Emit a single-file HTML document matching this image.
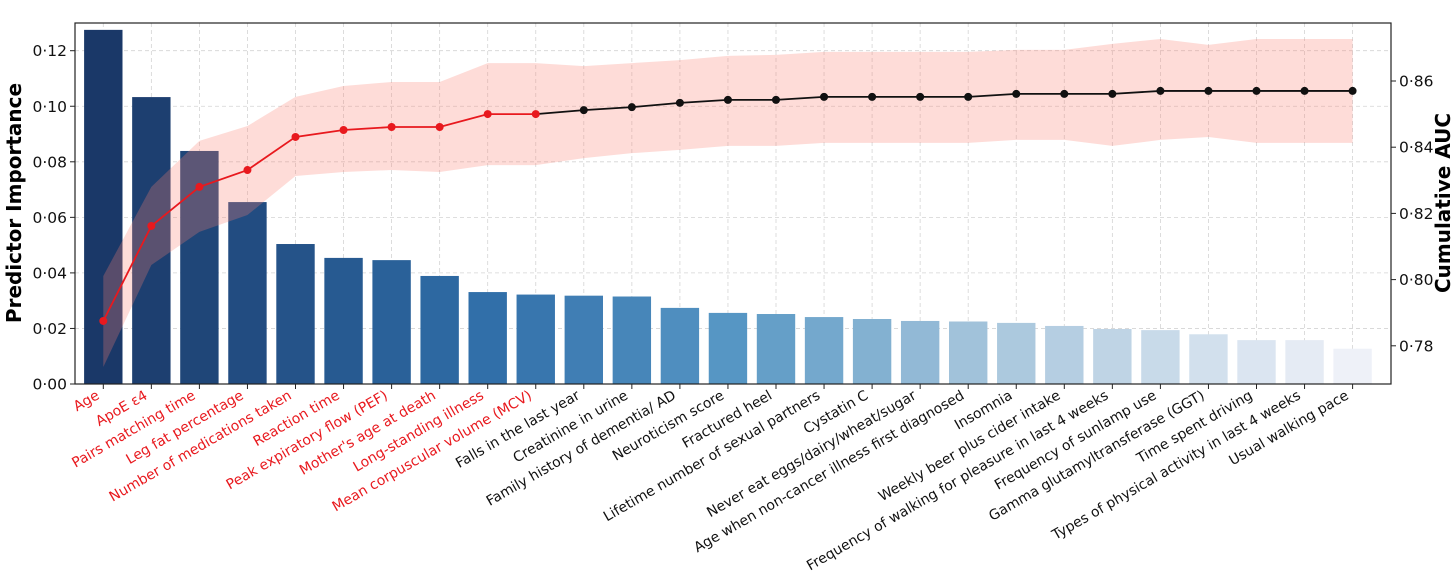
<!DOCTYPE html>
<html><head><meta charset="utf-8"><style>
body{margin:0;background:#fff;}
svg{display:block;font-family:"DejaVu Sans","Liberation Sans",sans-serif;}
</style></head><body>
<svg id="chart" width="1456" height="580"></svg>
<script>
const categories=["Age","ApoE ε4","Pairs matching time","Leg fat percentage","Number of medications taken","Reaction time","Peak expiratory flow (PEF)","Mother's age at death","Long-standing illness","Mean corpuscular volume (MCV)","Falls in the last year","Creatinine in urine","Family history of dementia/ AD","Neuroticism score","Fractured heel","Lifetime number of sexual partners","Cystatin C","Never eat eggs/dairy/wheat/sugar","Age when non-cancer illness first diagnosed","Insomnia","Weekly beer plus cider intake","Frequency of walking for pleasure in last 4 weeks","Frequency of sunlamp use","Gamma glutamyltransferase (GGT)","Time spent driving","Types of physical activity in last 4 weeks","Usual walking pace"];
const importance=[0.1275,0.1033,0.0839,0.0655,0.0504,0.0454,0.0446,0.0389,0.0331,0.0322,0.0318,0.0315,0.0274,0.0256,0.0252,0.0241,0.0234,0.0227,0.0225,0.0220,0.0209,0.0198,0.0194,0.0179,0.0158,0.0158,0.0127];
const aucMean=[0.7875,0.8162,0.8280,0.8331,0.8431,0.8452,0.8461,0.8461,0.8500,0.8500,0.8512,0.8521,0.8534,0.8543,0.8543,0.8552,0.8552,0.8552,0.8552,0.8561,0.8561,0.8561,0.8570,0.8570,0.8570,0.8570,0.8570];
const aucUpper=[0.8011,0.8280,0.8419,0.8464,0.8552,0.8585,0.8597,0.8597,0.8654,0.8654,0.8645,0.8654,0.8663,0.8676,0.8679,0.8688,0.8688,0.8688,0.8688,0.8694,0.8694,0.8712,0.8727,0.8709,0.8727,0.8727,0.8727];
const aucLower=[0.7736,0.8044,0.8144,0.8195,0.8313,0.8325,0.8331,0.8325,0.8346,0.8346,0.8367,0.8382,0.8392,0.8404,0.8404,0.8413,0.8413,0.8413,0.8413,0.8422,0.8422,0.8404,0.8422,0.8431,0.8413,0.8413,0.8413];
const leftTicks=[0,0.02,0.04,0.06,0.08,0.10,0.12];
const rightTicks=[0.78,0.80,0.82,0.84,0.86];
const nRed=10;

const NS="http://www.w3.org/2000/svg";
const svg=document.getElementById('chart');
const L=75,R=1391,T=23,B=384;
const x0=103.3,dx=48.05;
const xs=i=>x0+i*dx;
const yL=v=>B-v*2777.5;
const yR=v=>81-(v-0.86)/0.02*66.2;
function el(t,a,p){const e=document.createElementNS(NS,t);for(const k in a)e.setAttribute(k,a[k]);(p||svg).appendChild(e);return e;}
function fmt(v){return v.toFixed(2).replace('.','·');}
function lerp(a,b,t){return a+(b-a)*t;}
const stops=[[0,[26,56,104]],[0.3,[47,109,168]],[0.5,[86,150,196]],[0.7,[164,196,219]],[1,[238,241,248]]];
function col(t){for(let i=0;i<stops.length-1;i++){const[a,ca]=stops[i],[b,cb]=stops[i+1];if(t<=b){const u=(t-a)/(b-a);return `rgb(${ca.map((c,j)=>Math.round(lerp(c,cb[j],u))).join(',')})`;}}return 'rgb(238,241,248)';}

const grid=el('g',{});


categories.forEach((c,i)=>{el('line',{x1:xs(i),x2:xs(i),y1:T,y2:B,stroke:'#d4d4d4','stroke-dasharray':'4,3','stroke-width':0.8},grid);});
leftTicks.forEach(v=>{el('line',{x1:L,x2:R,y1:yL(v),y2:yL(v),stroke:'#d4d4d4','stroke-dasharray':'4,3','stroke-width':0.8},grid);});

const bars=el('g',{});


importance.forEach((v,i)=>{
  const r=el('rect',{x:xs(i)-19.2,y:yL(v),width:38.4,height:B-yL(v),fill:col(i/(importance.length-1))},bars);
  
  
});

let d='M'+aucUpper.map((v,i)=>xs(i)+','+yR(v)).join('L');
for(let i=aucLower.length-1;i>=0;i--)d+='L'+xs(i)+','+yR(aucLower[i]);
const band=el('path',{d:d+'Z',fill:'rgba(250,128,114,0.28)'});



const redPts=aucMean.slice(0,nRed).map((v,i)=>xs(i)+','+yR(v)).join(' ');
const blkPts=aucMean.slice(nRed-1).map((v,i)=>xs(i+nRed-1)+','+yR(v)).join(' ');
const bl=el('polyline',{points:blkPts,fill:'none',stroke:'#111','stroke-width':1.8});


const rl=el('polyline',{points:redPts,fill:'none',stroke:'#e8191e','stroke-width':1.8});


aucMean.forEach((v,i)=>{
  const c=el('circle',{cx:xs(i),cy:yR(v),r:4,fill:i<nRed?'#e8191e':'#111'});
  
  
});

const fr=el('rect',{x:L,y:T,width:R-L,height:B-T,fill:'none',stroke:'#222','stroke-width':1.2});



leftTicks.forEach(v=>{
  el('line',{x1:L-5,x2:L,y1:yL(v),y2:yL(v),stroke:'#222'});
  const t=el('text',{x:L-8,y:yL(v)+5.5,'text-anchor':'end','font-size':15.5,fill:'#111'});
  t.textContent=fmt(v);
  
  
});
rightTicks.forEach(v=>{
  el('line',{x1:R,x2:R+5,y1:yR(v),y2:yR(v),stroke:'#222'});
  const t=el('text',{x:R+8,y:yR(v)+5.5,'font-size':15.5,fill:'#111'});
  t.textContent=fmt(v);
  
  
});
categories.forEach((c,i)=>{
  el('line',{x1:xs(i),x2:xs(i),y1:B,y2:B+5,stroke:'#222'});
  const x=xs(i)-3,y=B+14;
  const t=el('text',{x:x,y:y,'text-anchor':'end','font-size':14,fill:i<nRed?'#e8191e':'#111',transform:`rotate(-30 ${x} ${y})`});
  t.textContent=c;
  
  
});
const yt=el('text',{x:0,y:0,'text-anchor':'middle','font-size':20,'font-weight':'bold',fill:'#000',transform:'translate(21,203) rotate(-90)'});
yt.textContent='Predictor Importance';


const yt2=el('text',{x:0,y:0,'text-anchor':'middle','font-size':20,'font-weight':'bold',fill:'#000',transform:'translate(1450,203) rotate(-90)'});
yt2.textContent='Cumulative AUC';


</script>
</body></html>
